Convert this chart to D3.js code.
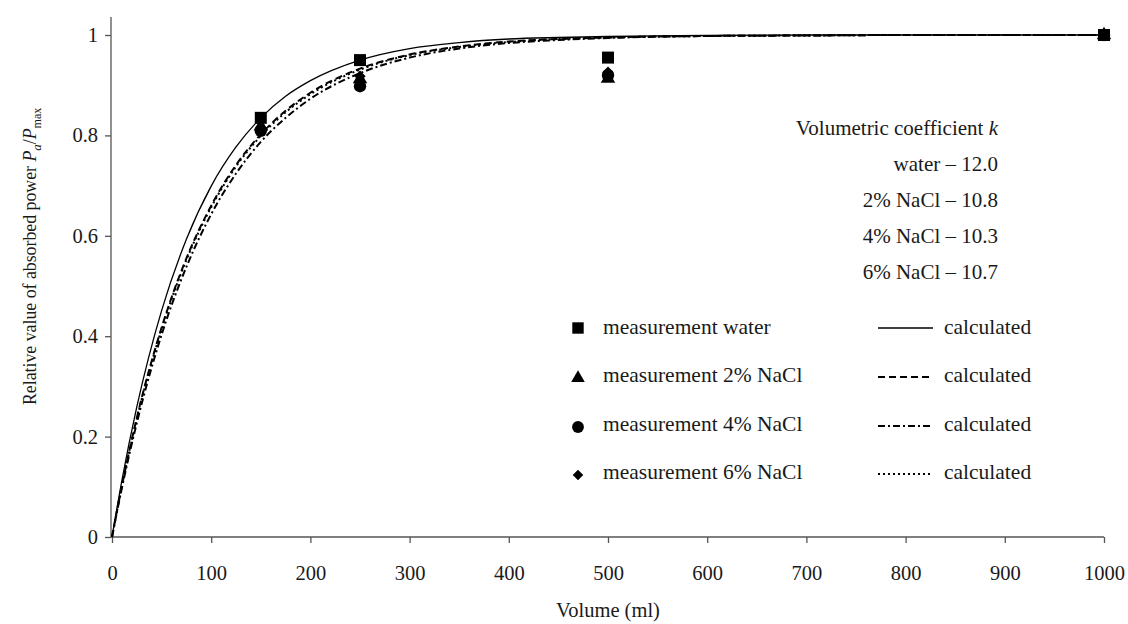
<html lang="en">
<head>
<meta charset="UTF-8">
<title>Absorbed power</title>
<script src="https://d3js.org/d3.v7.min.js"></script>
<style>
  body { margin: 0; background: #fff; }
  text { font-family: "Liberation Serif", "Times New Roman", serif; fill: #1a1a1a; }
</style>
</head>
<body>
<div id="chart"></div>
<script>
// calculated curves
var volumes   = [0, 10, 25, 50, 75, 100, 125, 150, 175, 200, 250, 300, 350, 400, 450, 500, 600, 700, 800, 1000];
var calcWater = [0, 0.113, 0.259, 0.451, 0.593, 0.699, 0.777, 0.835, 0.878, 0.909, 0.950, 0.973, 0.985, 0.992, 0.995, 0.997, 0.999, 1, 1, 1];
var calc2     = [0, 0.102, 0.237, 0.417, 0.555, 0.660, 0.741, 0.802, 0.849, 0.885, 0.933, 0.961, 0.977, 0.987, 0.992, 0.995, 0.998, 0.999, 1, 1];
var calc4     = [0, 0.098, 0.227, 0.403, 0.538, 0.643, 0.724, 0.787, 0.835, 0.873, 0.924, 0.955, 0.973, 0.984, 0.990, 0.994, 0.998, 0.999, 1, 1];
var calc6     = [0, 0.101, 0.235, 0.414, 0.552, 0.657, 0.738, 0.799, 0.846, 0.882, 0.931, 0.960, 0.976, 0.986, 0.992, 0.995, 0.998, 0.999, 1, 1];

// measured points
var measVolumes = [150, 250, 500, 1000];
var measWater   = [0.835, 0.950, 0.955, 1];
var meas2       = [0.818, 0.912, 0.913, 1];
var meas4       = [0.809, 0.898, 0.920, 1];
var meas6       = [0.815, 0.918, 0.926, 1];

var xTicks = [0, 100, 200, 300, 400, 500, 600, 700, 800, 900, 1000];
var yTicks = [0, 0.2, 0.4, 0.6, 0.8, 1];
var kLabels = ["water \u2013 12.0", "2% NaCl \u2013 10.8", "4% NaCl \u2013 10.3", "6% NaCl \u2013 10.7"];
var measLabels = ["measurement water", "measurement 2% NaCl", "measurement 4% NaCl", "measurement 6% NaCl"];

var W = 1128, H = 624;
var svg = d3.select("#chart").append("svg").attr("width", W).attr("height", H);

var x = d3.scaleLinear().domain([0, 1000]).range([112, 1104]);
var y = d3.scaleLinear().domain([0, 1]).range([537, 35]);

var axisColor = "#555";

// axes
var xAxis = svg.append("g").attr("transform", "translate(0,537)")
  .call(d3.axisBottom(x).tickValues(xTicks).tickSize(6).tickPadding(22).tickFormat(d3.format("d")));
var yAxis = svg.append("g").attr("transform", "translate(111,0)")
  .call(d3.axisLeft(y).tickValues(yTicks).tickSize(6).tickPadding(7).tickFormat(function(d){ return d === 0 || d === 1 ? d : d3.format(".1f")(d); }));
[xAxis, yAxis].forEach(function(a){
  a.select(".domain").remove();
  a.selectAll(".tick line").attr("stroke", axisColor).attr("stroke-width", 1.3);
  a.selectAll(".tick text").style("font-family", "Liberation Serif").style("font-size", "20.5px").attr("fill", "#1a1a1a");
});
svg.append("line").attr("x1", 111).attr("x2", 111).attr("y1", 17).attr("y2", 537).attr("stroke", axisColor).attr("stroke-width", 1.3);
svg.append("line").attr("x1", 111).attr("x2", x(1000)).attr("y1", 537).attr("y2", 537).attr("stroke", axisColor).attr("stroke-width", 1.3);

// axis titles
svg.append("text").attr("x", 608).attr("y", 617).attr("text-anchor", "middle").style("font-size", "20.5px").text("Volume (ml)");

var yt = svg.append("text").attr("transform", "translate(36,405) rotate(-90)").style("font-size", "17.8px");
yt.append("tspan").text("Relative value of absorbed power ");
yt.append("tspan").style("font-style", "italic").text("P");
yt.append("tspan").style("font-style", "italic").style("font-size", "13px").attr("dy", 5).text("a");
yt.append("tspan").attr("dy", -5).text("/");
yt.append("tspan").style("font-style", "italic").text("P");
yt.append("tspan").style("font-size", "12px").attr("dy", 5).text("max");

// calculated curves
var curves = [
  { vals: calcWater, dash: null, w: 1.3 },
  { vals: calc2, dash: "7,4", w: 2 },
  { vals: calc4, dash: "7,3,2,3", w: 2 },
  { vals: calc6, dash: "2,3", w: 2 }
];
var line = d3.line().x(function(d){ return x(d[0]); }).y(function(d){ return y(d[1]); }).curve(d3.curveMonotoneX);
curves.slice().reverse().forEach(function(c){
  svg.append("path")
    .datum(volumes.map(function(v, i){ return [v, c.vals[i]]; }))
    .attr("d", line)
    .attr("fill", "none")
    .attr("stroke", "#000")
    .attr("stroke-width", c.w)
    .attr("stroke-dasharray", c.dash);
});

// markers
var sq = d3.symbol().type(d3.symbolSquare).size(144)();
var tri = d3.symbol().type(d3.symbolTriangle).size(90)();
var circ = d3.symbol().type(d3.symbolCircle).size(120)();
var dia = d3.symbol().type(d3.symbolSquare).size(64)();
var markers = [
  { vals: meas6, path: dia, rot: 45 },
  { vals: meas2, path: tri, rot: 0 },
  { vals: meas4, path: circ, rot: 0 },
  { vals: measWater, path: sq, rot: 0 }
];
markers.forEach(function(m){
  svg.append("g").selectAll("path")
    .data(measVolumes.map(function(v, i){ return [v, m.vals[i]]; }))
    .enter().append("path")
    .attr("d", m.path)
    .attr("fill", "#000")
    .attr("transform", function(d){ return "translate(" + x(d[0]) + "," + y(d[1]) + ") rotate(" + m.rot + ")"; });
});

// coefficient text
svg.append("text").attr("x", 998).attr("y", 135).attr("text-anchor", "end").style("font-size", "21px")
  .call(function(t){
    t.append("tspan").text("Volumetric coefficient ");
    t.append("tspan").style("font-style", "italic").text("k");
  });
svg.append("g").selectAll("text").data(kLabels).enter().append("text")
  .attr("x", 998).attr("y", function(d, i){ return 171 + i * 36; })
  .attr("text-anchor", "end").style("font-size", "21px").text(function(d){ return d; });

// legend
var legendRows = [328, 376, 425, 473];
var legendSyms = [
  { path: d3.symbol().type(d3.symbolSquare).size(130)(), rot: 0 },
  { path: d3.symbol().type(d3.symbolTriangle).size(80)(), rot: 0 },
  { path: d3.symbol().type(d3.symbolCircle).size(110)(), rot: 0 },
  { path: d3.symbol().type(d3.symbolSquare).size(56)(), rot: 45 }
];
var lg = svg.append("g");
legendRows.forEach(function(ry, i){
  lg.append("path").attr("d", legendSyms[i].path).attr("fill", "#000")
    .attr("transform", "translate(578," + (ry + (i === 0 ? 0 : 2)) + ") rotate(" + legendSyms[i].rot + ")");
  lg.append("text").attr("x", 603).attr("y", ry + 6).style("font-size", "21.5px").text(measLabels[i]);
  lg.append("line").attr("x1", 878).attr("x2", 933).attr("y1", ry + (i === 0 ? 0 : 1)).attr("y2", ry + (i === 0 ? 0 : 1))
    .attr("stroke", "#000").attr("stroke-width", curves[i].w).attr("stroke-dasharray", curves[i].dash);
  lg.append("text").attr("x", 944).attr("y", ry + 6).style("font-size", "21.5px").text("calculated");
});
</script>
</body>
</html>
